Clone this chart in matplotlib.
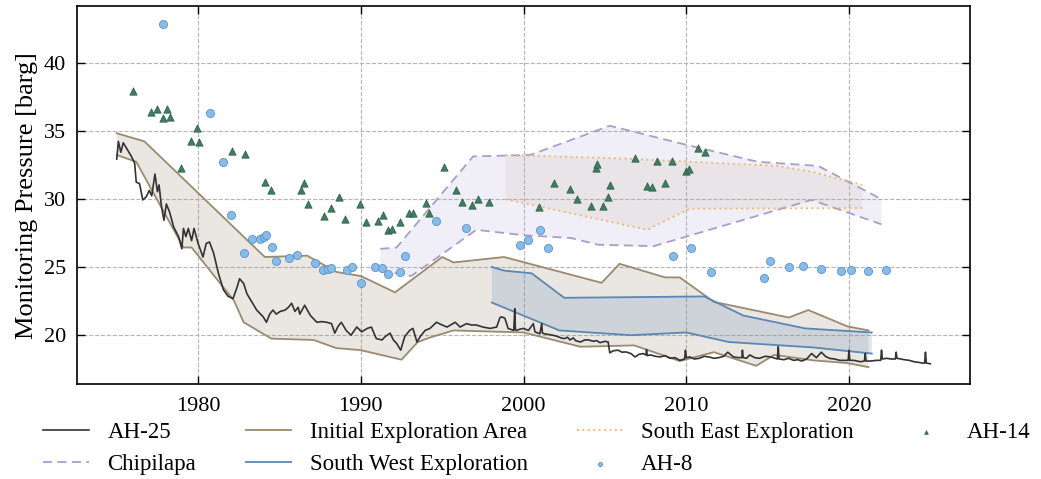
import numpy as np
import matplotlib
matplotlib.use("Agg")
import matplotlib.pyplot as plt

plt.rcParams['font.family'] = ['Liberation Serif', 'DejaVu Serif']
plt.rcParams['mathtext.fontset'] = 'stix'

# AH-25 monitoring well (year, barg)
ah25_year = [1975.0, 1975.1, 1975.25, 1975.4, 1975.6, 1975.9, 1976.1, 1976.2, 1976.4, 1976.6,
             1976.8, 1977.0, 1977.15, 1977.35, 1977.5, 1977.6, 1977.75, 1977.9, 1978.05, 1978.25,
             1978.5, 1978.8, 1979.0, 1979.1, 1979.25, 1979.4, 1979.6, 1979.75, 1980.0, 1980.3,
             1980.5, 1980.7, 1980.95, 1981.25, 1981.55, 1981.85, 1982.15, 1982.4, 1982.55, 1982.8,
             1983.0, 1983.3, 1983.6, 1984.0, 1984.2, 1984.4, 1984.6, 1984.8, 1985.05, 1985.35,
             1985.55, 1985.75, 1985.95, 1986.15, 1986.25, 1986.55, 1986.9, 1987.3, 1987.6, 1987.9,
             1988.2, 1988.4, 1988.6, 1988.8, 1989.1, 1989.4, 1989.75, 1990.05, 1990.4, 1990.65,
             1990.95, 1991.3, 1991.5, 1991.8, 1992.0, 1992.2, 1992.45, 1992.7, 1993.0, 1993.2,
             1993.45, 1993.65, 1993.95, 1994.25, 1994.65, 1995.0, 1995.3, 1995.8, 1996.1, 1996.5,
             1996.8, 1997.1, 1997.5, 1997.95, 1998.35, 1998.55, 1998.65, 1998.85, 1999.05, 1999.4,
             1999.46, 1999.5, 1999.55, 1999.8, 2000.0, 2000.3, 2000.6, 2000.7, 2001.0, 2001.12,
             2001.16, 2001.3, 2001.55, 2001.8, 2002.1, 2002.3, 2002.5, 2002.7, 2002.85, 2003.05,
             2003.2, 2003.5, 2003.75, 2004.0, 2004.3, 2004.5, 2004.7, 2005.0, 2005.2, 2005.3,
             2005.5, 2005.8, 2006.05, 2006.3, 2006.6, 2006.85, 2007.1, 2007.35, 2007.52, 2007.56,
             2007.6, 2007.8, 2008.1, 2008.4, 2008.7, 2009.0, 2009.3, 2009.6, 2009.9, 2009.95,
             2010.0, 2010.2, 2010.5, 2010.8, 2011.1, 2011.4, 2011.7, 2012.0, 2012.3, 2012.55,
             2012.9, 2013.2, 2013.42, 2013.45, 2013.5, 2013.7, 2013.9, 2014.2, 2014.5, 2014.85,
             2015.2, 2015.6, 2015.65, 2015.7, 2016.0, 2016.3, 2016.6, 2016.85, 2017.1, 2017.4,
             2017.7, 2018.0, 2018.3, 2018.55, 2018.8, 2019.1, 2019.45, 2019.95, 2020.0, 2020.05,
             2020.3, 2020.7, 2020.95, 2021.0, 2021.05, 2021.3, 2021.7, 2021.95, 2022.0, 2022.05,
             2022.3, 2022.6, 2022.85, 2022.9, 2022.95, 2023.4, 2023.7, 2024.0, 2024.3, 2024.5,
             2024.65, 2024.7, 2024.75, 2025.0]
ah25_val = [32.9, 34.2, 33.4, 34.1, 33.7, 33.1, 32.6, 31.2, 31.1, 29.9,
            30.1, 30.6, 30.2, 31.8, 30.5, 31.0, 29.4, 28.4, 29.6, 29.0,
            27.9, 27.2, 26.3, 27.8, 27.2, 27.8, 26.9, 27.8, 26.7, 25.7,
            26.7, 26.8, 26.0, 24.5, 23.3, 22.8, 22.65, 23.5, 24.1, 23.75,
            23.0, 22.4, 21.8, 21.3, 20.9, 21.5, 21.8, 21.5, 21.7, 21.8,
            22.0, 22.3, 21.7, 22.0, 21.5, 22.15, 21.4, 20.9, 20.95, 20.9,
            20.8, 20.1, 20.6, 20.9, 20.3, 19.95, 20.55, 20.2, 20.45, 20.55,
            19.7, 19.6, 19.85, 20.1, 19.6, 19.35, 18.85, 19.85, 20.3, 20.45,
            19.45, 19.85, 20.3, 20.45, 20.9, 20.7, 20.55, 20.9, 20.55, 20.8,
            20.7, 20.7, 20.55, 20.45, 20.55, 21.25, 21.3, 21.2, 20.45, 20.3,
            21.9, 20.35, 20.3, 20.4, 20.45, 20.3, 20.8, 20.2, 20.05, 20.8,
            20.1, 20.05, 20.0, 19.95, 19.85, 19.75, 19.7, 19.8, 19.6, 19.75,
            19.55, 19.45, 19.6, 19.6, 19.5, 19.55, 19.4, 19.5, 19.45, 18.65,
            18.8, 18.85, 18.7, 18.72, 18.6, 18.35, 18.55, 18.6, 18.5, 18.9,
            18.45, 18.5, 18.4, 18.35, 18.45, 18.25, 18.3, 18.1, 18.2, 18.85,
            18.3, 18.35, 18.2, 18.25, 18.4, 18.35, 18.25, 18.3, 18.4, 18.7,
            18.35, 18.3, 18.3, 18.85, 18.3, 18.25, 18.5, 18.3, 18.25, 18.4,
            18.35, 18.2, 19.1, 18.2, 18.15, 18.25, 18.1, 18.15, 18.05, 18.2,
            18.6, 18.3, 18.7, 18.4, 18.25, 18.2, 18.1, 18.1, 18.85, 18.1,
            18.1, 18.0, 18.05, 18.6, 18.05, 18.05, 18.1, 18.1, 18.85, 18.2,
            18.25, 18.2, 18.2, 18.7, 18.25, 18.15, 18.1, 18.0, 17.95, 17.9,
            17.9, 18.7, 17.9, 17.85]

# AH-14 observations
ah14_year = [1975.99, 1977.1, 1977.46, 1978.1, 1977.85, 1978.28, 1979.92, 1979.57, 1980.04, 1978.97,
             1982.1, 1982.9, 1984.1, 1984.5, 1986.3, 1986.5, 1986.78, 1988.67, 1988.17, 1987.72,
             1989.0, 1989.96, 1990.3, 1991.08, 1991.37, 1991.66, 1991.9, 1992.38, 1992.95, 1993.2,
             1994.03, 1994.2, 1995.1, 1995.85, 1996.2, 1996.86, 1997.2, 1997.9, 2000.94, 2001.88,
             2002.86, 2003.3, 2004.17, 2004.46, 2004.52, 2004.88, 2005.17, 2005.3, 2006.86, 2007.56,
             2007.9, 2008.2, 2008.72, 2009.13, 2009.97, 2010.16, 2010.73, 2011.16]
ah14_val = [37.9, 36.37, 36.57, 36.57, 35.93, 36.0, 35.22, 34.24, 34.14, 32.25,
            33.5, 33.3, 31.25, 30.6, 30.6, 31.15, 29.58, 30.12, 29.34, 28.7,
            28.48, 29.6, 28.28, 28.35, 28.77, 27.69, 27.77, 28.28, 28.9, 28.97,
            29.7, 28.97, 32.3, 30.6, 29.75, 29.5, 29.97, 29.75, 29.41, 31.13,
            30.73, 29.97, 29.48, 32.25, 32.52, 29.48, 30.12, 30.98, 33.0, 30.9,
            30.83, 32.74, 31.13, 32.79, 32.0, 32.15, 33.72, 33.45]

# AH-8 observations
ah8_year = [1977.83, 1980.72, 1981.5, 1982.04, 1982.8, 1983.3, 1983.8, 1984.04, 1984.2, 1984.55,
            1984.8, 1985.6, 1986.1, 1987.2, 1987.7, 1987.96, 1988.14, 1989.18, 1989.43, 1990.03,
            1990.87, 1991.28, 1991.7, 1992.4, 1992.7, 1994.63, 1996.47, 1999.8, 2000.3, 2001.0,
            2001.5, 2009.2, 2010.27, 2011.52, 2014.8, 2015.16, 2016.34, 2017.19, 2018.3, 2019.54,
            2020.13, 2021.18, 2022.25]
ah8_val = [42.82, 36.32, 32.72, 28.82, 26.0, 27.0, 27.06, 27.2, 27.35, 26.4,
           25.44, 25.66, 25.85, 25.27, 24.78, 24.85, 24.87, 24.73, 24.93, 23.82,
           24.95, 24.87, 24.43, 24.58, 25.78, 28.35, 27.84, 26.57, 26.93, 27.72,
           26.37, 25.8, 26.37, 24.58, 24.16, 25.44, 24.93, 25.02, 24.8, 24.68,
           24.73, 24.68, 24.73]

# Envelopes: upper and lower bounds
init_up_x = [1975.0, 1976.7, 1984.1, 1986.7, 1988.5, 1990.0, 1992.1, 1995.0, 1995.7, 1998.8,
             2004.8, 2005.9, 2008.7, 2009.6, 2011.7, 2016.3, 2017.5, 2019.9, 2021.2]
init_up_y = [34.8, 34.2, 25.7, 25.8, 24.6, 24.3, 23.1, 25.7, 25.3, 25.7,
             23.8, 25.2, 24.2, 24.2, 22.4, 21.25, 21.8, 20.6, 20.3]
init_lo_x = [1975.0, 1976.2, 1979.1, 1979.6, 1982.2, 1982.8, 1984.5, 1987.1, 1988.5, 1990.0,
             1992.5, 1993.5, 1994.3, 1995.7, 2000.0, 2003.5, 2006.8, 2009.6, 2011.7, 2014.3,
             2015.4, 2017.8, 2019.9, 2021.2]
init_lo_y = [33.2, 32.7, 26.4, 26.4, 22.5, 20.9, 19.7, 19.6, 19.0, 18.85,
             18.15, 19.45, 19.8, 20.3, 20.15, 19.1, 19.2, 18.05, 18.7, 17.7,
             18.5, 18.1, 17.9, 17.6]

chip_up_x = [1991.2, 1992.2, 1996.9, 2000.4, 2005.3, 2010.0, 2014.4, 2018.1, 2022.0]
chip_up_y = [26.3, 26.4, 33.1, 33.2, 35.35, 33.95, 32.7, 32.4, 29.95]
chip_lo_x = [1991.2, 1993.1, 1997.1, 2000.0, 2002.9, 2004.6, 2008.0, 2010.0, 2017.7, 2022.0]
chip_lo_y = [24.7, 24.3, 27.7, 27.3, 27.1, 26.6, 26.5, 27.2, 29.9, 28.1]

se_up_x = [1998.9, 2005.9, 2012.1, 2015.6, 2017.8, 2020.8]
se_up_y = [33.2, 32.95, 32.6, 32.4, 31.95, 31.0]
se_lo_x = [1998.9, 2007.6, 2010.2, 2020.8]
se_lo_y = [29.95, 27.7, 29.25, 29.3]

sw_up_x = [1998.05, 1998.8, 2000.5, 2002.5, 2011.1, 2013.5, 2017.3, 2021.4]
sw_up_y = [24.97, 24.7, 24.5, 22.7, 22.8, 21.4, 20.45, 20.15]
sw_lo_x = [1998.05, 2002.2, 2006.6, 2010.0, 2012.6, 2017.8, 2021.4]
sw_lo_y = [22.35, 20.3, 19.95, 20.15, 19.45, 19.05, 18.6]

fig = plt.figure(figsize=(10.41, 4.79), dpi=100)
ax = fig.add_axes([0.074, 0.198, 0.858, 0.789])


def envelope(xu, yu, xl, yl, color, ls, label, alpha=0.2, fill=None, lw=1.3):
    px = np.concatenate([xu, xl[::-1]])
    py = np.concatenate([yu, yl[::-1]])
    ax.fill(px, py, color=fill or color, alpha=alpha, lw=0)
    ax.plot(xu, yu, color=color, ls=ls, lw=lw, label=label)
    ax.plot(xl, yl, color=color, ls=ls, lw=lw)


envelope(init_up_x, init_up_y, init_lo_x, init_lo_y, '#9a8b6f', '-', 'Initial Exploration Area')
envelope(chip_up_x, chip_up_y, chip_lo_x, chip_lo_y, '#a99dcb', (0, (5, 3)), 'Chipilapa', alpha=0.17)
envelope(se_up_x, se_up_y, se_lo_x, se_lo_y, '#f0b36a', (0, (1, 2)), 'South East Exploration',
         alpha=0.15, fill='#c2ad9a')
envelope(sw_up_x, sw_up_y, sw_lo_x, sw_lo_y, '#5a87b3', '-', 'South West Exploration')

ax.plot(ah25_year, ah25_val, color='#333333', lw=1.2, label='AH-25')
ax.scatter(ah14_year, ah14_val, marker='^', s=28, color='#3f7d60', edgecolor='#2c5c45',
           lw=0.5, label='AH-14', zorder=4)
ax.scatter(ah8_year, ah8_val, marker='o', s=34, color='#86bbea', edgecolor='#5a93c6',
           lw=0.6, label='AH-8', zorder=4)

ax.set_xlim(1972.56, 2027.45)
ax.set_ylim(16.35, 44.14)
ax.set_xticks([1980, 1990, 2000, 2010, 2020])
ax.set_yticks([20, 25, 30, 35, 40])
ax.grid(True, ls='--', color='#b5b5b5', lw=0.8)
ax.set_axisbelow(True)
ax.tick_params(direction='in', top=True, right=True, length=6, width=1, labelsize=16, pad=8)
ax.tick_params(axis='x', pad=9)
for s in ax.spines.values():
    s.set_linewidth(1.2)
ax.set_ylabel('Monitoring Pressure [barg]', fontsize=19, labelpad=4)

h, l = ax.get_legend_handles_labels()
order = ['AH-25', 'Chipilapa', 'Initial Exploration Area', 'South West Exploration',
         'South East Exploration', 'AH-8', 'AH-14']
hd = dict(zip(l, h))
fig.legend([hd[k] for k in order], order, loc='lower center', bbox_to_anchor=(0.516, -0.035),
           ncol=4, frameon=False, fontsize=16.5, markerscale=0.5, columnspacing=2.15,
           handlelength=2.0, labelspacing=0.5)

fig.savefig('out.png', dpi=100)
